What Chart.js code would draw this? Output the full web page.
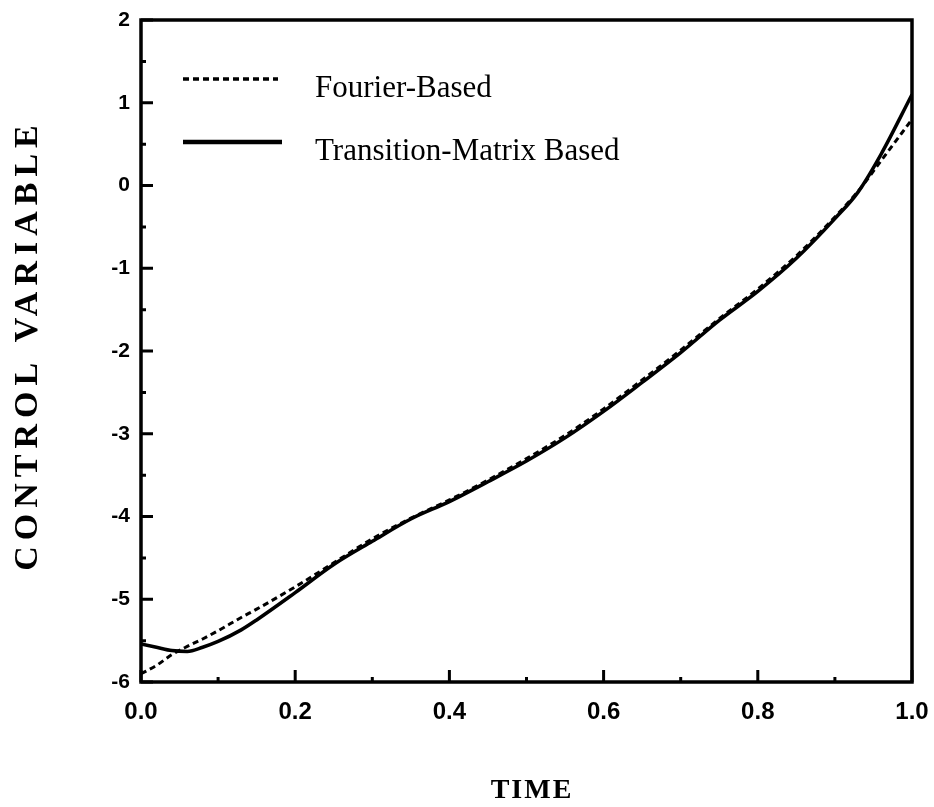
<!DOCTYPE html>
<html>
<head>
<meta charset="utf-8">
<script src="https://cdn.jsdelivr.net/npm/chart.js@4/dist/chart.umd.min.js"></script>
<style>
  html, body { margin: 0; padding: 0; background: #fff; }
  #wrap { width: 934px; height: 807px; }
</style>
</head>
<body>
<div id="wrap"><canvas id="chart" width="934" height="807"></canvas></div>
<script>
// values
const timePoints = [0, 0.02, 0.04, 0.06, 0.08, 0.1, 0.13, 0.15, 0.2, 0.25, 0.3, 0.35, 0.4, 0.45, 0.5, 0.55, 0.6, 0.65, 0.7, 0.75, 0.8, 0.85, 0.9, 0.93, 0.96, 1.0];
const fourierValues = [-5.9, -5.8, -5.67, -5.57, -5.48, -5.38, -5.22, -5.12, -4.85, -4.56, -4.27, -4.02, -3.80, -3.56, -3.30, -3.02, -2.70, -2.35, -1.99, -1.61, -1.25, -0.85, -0.38, -0.07, 0.30, 0.80];
const transitionValues = [-5.54, -5.58, -5.62, -5.63, -5.58, -5.51, -5.37, -5.25, -4.92, -4.58, -4.30, -4.03, -3.82, -3.58, -3.33, -3.05, -2.73, -2.38, -2.02, -1.63, -1.28, -0.88, -0.40, -0.08, 0.38, 1.10];
const seriesLabels = ["Fourier-Based", "Transition-Matrix Based"];
const xTickLabels = ["0.0", "0.2", "0.4", "0.6", "0.8", "1.0"];
const yTickLabels = ["-6", "-5", "-4", "-3", "-2", "-1", "0", "1", "2"];
const xTitle = "TIME";
const yTitle = "CONTROL VARIABLE";

const toPoints = (xs, ys) => xs.map((x, i) => ({ x: x, y: ys[i] }));

// frame + inward ticks (major and minor)
const framePlugin = {
    id: "frame",
    afterDraw(chart) {
        const { ctx, chartArea: a, scales } = chart;
        ctx.save();
        ctx.strokeStyle = "#000";
        ctx.lineWidth = 3.5;
        ctx.strokeRect(a.left, a.top, a.right - a.left, a.bottom - a.top);

        ctx.lineWidth = 3;
        const xt = scales.x.ticks.map(t => t.value);
        const yt = scales.y.ticks.map(t => t.value);
        ctx.beginPath();
        xt.forEach((v, i) => {
            const px = scales.x.getPixelForValue(v);
            ctx.moveTo(px, a.bottom); ctx.lineTo(px, a.bottom - 12);
            if (i < xt.length - 1) {
                const mx = scales.x.getPixelForValue((v + xt[i + 1]) / 2);
                ctx.moveTo(mx, a.bottom); ctx.lineTo(mx, a.bottom - 5);
            }
        });
        yt.forEach((v, i) => {
            const py = scales.y.getPixelForValue(v);
            ctx.moveTo(a.left, py); ctx.lineTo(a.left + 12, py);
            if (i < yt.length - 1) {
                const my = scales.y.getPixelForValue((v + yt[i + 1]) / 2);
                ctx.moveTo(a.left, my); ctx.lineTo(a.left + 5, my);
            }
        });
        ctx.stroke();
        ctx.restore();
    }
};

// legend drawn inside the plot, top-left
const legendPlugin = {
    id: "innerLegend",
    afterDraw(chart) {
        const ctx = chart.ctx;
        ctx.save();
        chart.data.datasets.forEach((ds, i) => {
            const y = 79 + i * 63;
            ctx.strokeStyle = "#000";
            ctx.lineWidth = ds.borderDash.length ? 3.5 : 4.5;
            ctx.setLineDash(ds.borderDash);
            ctx.beginPath();
            ctx.moveTo(183, y);
            ctx.lineTo(i === 0 ? 278 : 282, y);
            ctx.stroke();
            ctx.setLineDash([]);
            ctx.fillStyle = "#000";
            ctx.font = '31px "Liberation Serif"';
            ctx.textBaseline = "alphabetic";
            ctx.fillText(ds.label, 315, y + 18);
        });
        ctx.restore();
    }
};

// axis titles with letter spacing like the scan
const titlePlugin = {
    id: "axisTitles",
    afterDraw(chart) {
        const ctx = chart.ctx;
        ctx.save();
        ctx.fillStyle = "#000";
        ctx.textAlign = "center";
        ctx.textBaseline = "alphabetic";
        ctx.font = 'bold 34px "Liberation Serif"';
        ctx.letterSpacing = "6px";
        ctx.translate(37, 345);
        ctx.rotate(-Math.PI / 2);
        ctx.fillText(yTitle, 0, 0);
        ctx.restore();

        ctx.save();
        ctx.fillStyle = "#000";
        ctx.textAlign = "center";
        ctx.textBaseline = "alphabetic";
        ctx.font = 'bold 28px "Liberation Serif"';
        ctx.letterSpacing = "2px";
        ctx.fillText(xTitle, 532, 798);
        ctx.restore();
    }
};

new Chart(document.getElementById("chart"), {
    type: "scatter",
    data: {
        datasets: [
            {
                label: seriesLabels[0],
                data: toPoints(timePoints, fourierValues),
                showLine: true,
                borderColor: "#000",
                borderWidth: 3,
                borderDash: [6, 4],
                pointRadius: 0,
                cubicInterpolationMode: "monotone",
                fill: false
            },
            {
                label: seriesLabels[1],
                data: toPoints(timePoints, transitionValues),
                showLine: true,
                borderColor: "#000",
                borderWidth: 3.5,
                borderDash: [],
                pointRadius: 0,
                cubicInterpolationMode: "monotone",
                fill: false
            }
        ]
    },
    options: {
        responsive: false,
        animation: false,
        layout: { padding: { top: 20, right: 22, left: 0, bottom: 0 } },
        plugins: {
            legend: { display: false },
            tooltip: { enabled: false }
        },
        scales: {
            x: {
                type: "linear",
                min: 0,
                max: 1,
                grid: { display: false, drawTicks: false },
                border: { display: false },
                ticks: {
                    stepSize: 0.2,
                    autoSkip: false,
                    maxRotation: 0,
                    padding: 16,
                    color: "#000",
                    font: { family: '"Liberation Sans", Arial', size: 24, weight: "bold" },
                    callback: (v, i) => xTickLabels[i]
                },
                afterFit: s => { s.height = 125; s.paddingLeft = 0; s.paddingRight = 0; }
            },
            y: {
                min: -6,
                max: 2,
                grid: { display: false, drawTicks: false },
                border: { display: false },
                ticks: {
                    stepSize: 1,
                    padding: 11,
                    color: "#000",
                    font: { family: '"Liberation Sans", Arial', size: 21, weight: "bold" },
                    callback: (v, i) => yTickLabels[i]
                },
                afterFit: s => { s.width = 141; s.paddingTop = 0; s.paddingBottom = 0; }
            }
        }
    },
    plugins: [framePlugin, legendPlugin, titlePlugin]
});
</script>
</body>
</html>
